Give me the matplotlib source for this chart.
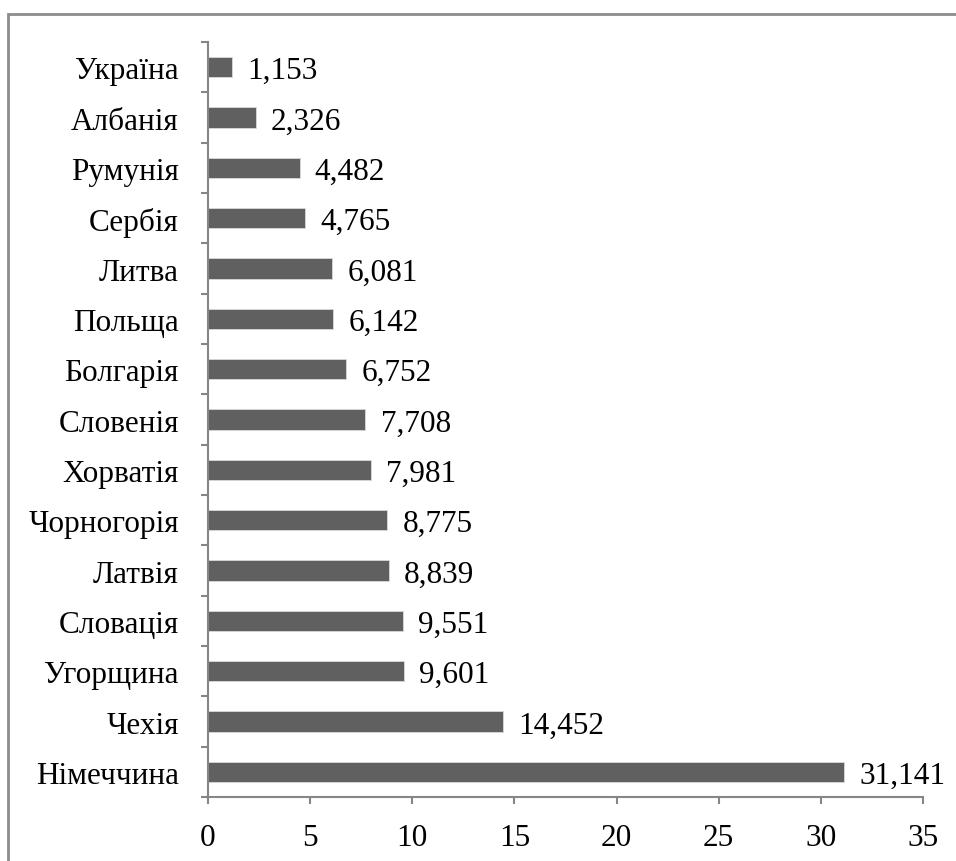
import numpy as np
import matplotlib.pyplot as plt
from matplotlib.patches import Rectangle

plt.rcParams['font.family'] = ['Liberation Serif', 'DejaVu Serif']

countries = ['Україна', 'Албанія', 'Румунія', 'Сербія', 'Литва', 'Польща',
             'Болгарія', 'Словенія', 'Хорватія', 'Чорногорія', 'Латвія',
             'Словація', 'Угорщина', 'Чехія', 'Німеччина']
values = [1.153, 2.326, 4.482, 4.765, 6.081, 6.142, 6.752, 7.708, 7.981,
          8.775, 8.839, 9.551, 9.601, 14.452, 31.141]
xticks = [0, 5, 10, 15, 20, 25, 30, 35]

fs = 22.5
fig = plt.figure(figsize=(9.56, 8.62), dpi=100)
ax = fig.add_axes([0.2176, 0.0742, 0.7479, 0.8759])

y = np.arange(len(countries))
ax.barh(y, values, height=0.4, color='#606060', edgecolor='#d9d9d9', linewidth=0.6)

for yi, v in zip(y, values):
    ax.annotate(f'{v:.3f}'.replace('.', ','), (v, yi), xytext=(11, 0),
                textcoords='offset points', va='center_baseline', ha='left',
                fontsize=fs, color='black')

ax.set_ylim(len(countries) - 0.5, -0.5)
ax.set_xlim(0, 35)
ax.set_yticks(y)
ax.set_yticklabels(countries, fontsize=fs)
ax.set_yticks(np.arange(-0.5, len(countries)), minor=True)
ax.set_xticks(xticks)
ax.set_xticklabels([str(t) for t in xticks], fontsize=fs)

gray = '#868686'
for side in ['top', 'right']:
    ax.spines[side].set_visible(False)
for side in ['left', 'bottom']:
    ax.spines[side].set_color(gray)
    ax.spines[side].set_linewidth(1.5)
ax.tick_params(axis='y', which='major', length=0, pad=21)
ax.tick_params(axis='y', which='minor', length=5, width=1.5, color=gray)
ax.tick_params(axis='x', length=5, width=1.5, color=gray, pad=14)

# outer frame
fig.patches.append(Rectangle((8 / 956, -0.1), 1.2, 1.1 - 14.5 / 862,
                             transform=fig.transFigure, fill=False,
                             edgecolor='#8c8c8c', linewidth=2))

fig.savefig('out.png', dpi=100)
